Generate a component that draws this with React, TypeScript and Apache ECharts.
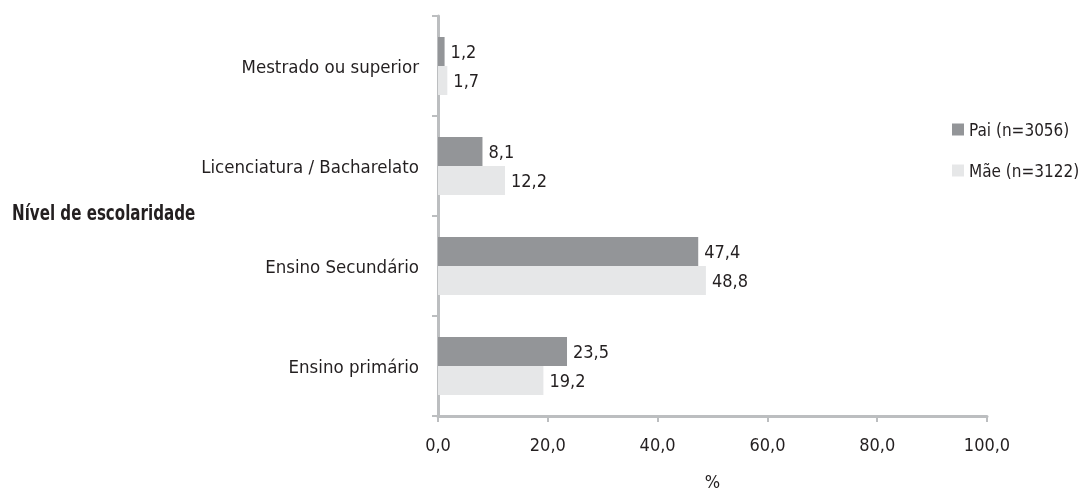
import React, { useEffect, useRef } from "react";
import * as echarts from "echarts";

const categories = [
  "Ensino primário",
  "Ensino Secundário",
  "Licenciatura / Bacharelato",
  "Mestrado ou superior",
];
const paiValues = [23.5, 47.4, 8.1, 1.2];
const maeValues = [19.2, 48.8, 12.2, 1.7];
const seriesNames = ["Pai (n=3056)", "Mãe (n=3122)"];
const axisTitle = "Nível de escolaridade";
const xName = "%";

const FONT = "'DejaVu Sans Condensed', 'Liberation Sans Narrow', 'Arial Narrow', Roboto, sans-serif";
const TEXT = "#231f20";
const AXIS = "#bcbec0";

const fmt = (v: number) => v.toFixed(1).replace(".", ",");

export default function App() {
  const ref = useRef<HTMLDivElement>(null);
  useEffect(() => {
    if (!ref.current) return;
    const chart = echarts.init(ref.current, undefined, { renderer: "svg" });
    const label = {
      show: true,
      position: "right",
      distance: 6,
      formatter: (p: any) => fmt(p.value),
      fontFamily: FONT,
      fontSize: 18,
      color: TEXT,
    };
    chart.setOption({
      animation: false,
      textStyle: { fontFamily: FONT, color: TEXT },
      grid: { left: 438, right: 99, top: 16, bottom: 73, containLabel: false },
      legend: {
        orient: "vertical",
        left: 947,
        top: 116,
        itemWidth: 12,
        itemHeight: 12,
        itemGap: 24,
        icon: "rect",
        textStyle: { fontFamily: FONT, fontSize: 17, color: TEXT },
        data: seriesNames,
      },
      xAxis: {
        type: "value",
        min: 0,
        max: 100,
        interval: 20,
        name: xName,
        nameLocation: "middle",
        nameGap: 56,
        nameTextStyle: { fontFamily: FONT, fontSize: 18, color: TEXT },
        axisLine: { show: true, lineStyle: { color: AXIS, width: 3 } },
        axisTick: { show: true, length: 6, lineStyle: { color: AXIS, width: 2 } },
        axisLabel: {
          formatter: (v: number) => fmt(v),
          fontFamily: FONT,
          fontSize: 18,
          color: TEXT,
          margin: 19,
        },
        splitLine: { show: false },
      },
      yAxis: {
        type: "category",
        data: categories,
        axisLine: { show: true, lineStyle: { color: AXIS, width: 3 } },
        axisTick: { show: true, length: 6, lineStyle: { color: AXIS, width: 2 } },
        axisLabel: { fontFamily: FONT, fontSize: 18.5, color: TEXT, margin: 19 },
      },
      graphic: [
        {
          type: "text",
          x: 12,
          y: 212,
          scaleX: 0.8,
          style: {
            text: axisTitle,
            fontFamily: FONT,
            fontSize: 21,
            fontWeight: "bold",
            fill: TEXT,
            verticalAlign: "middle",
            align: "left",
          },
        },
      ],
      series: [
        {
          name: seriesNames[0],
          type: "bar",
          data: paiValues,
          barGap: "0%",
          barCategoryGap: "42%",
          itemStyle: { color: "#939598" },
          label,
        },
        {
          name: seriesNames[1],
          type: "bar",
          data: maeValues,
          barGap: "0%",
          barCategoryGap: "42%",
          itemStyle: { color: "#e6e7e8" },
          label,
        },
      ],
    });
    return () => chart.dispose();
  }, []);
  return (
    <div
      ref={ref}
      style={{ position: "fixed", left: 0, top: 0, width: 1086, height: 495 }}
    />
  );
}
